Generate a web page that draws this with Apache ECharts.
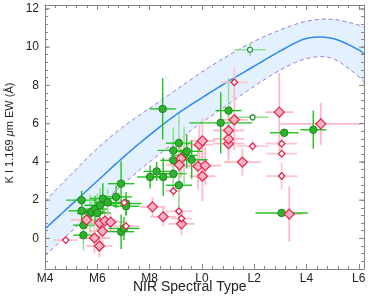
<!DOCTYPE html>
<html><head><meta charset="utf-8">
<script src="https://cdn.jsdelivr.net/npm/echarts@6/dist/echarts.min.js"></script>
<style>html,body{margin:0;padding:0;background:#fff}#c{width:374px;height:299px}</style>
</head><body><div id="c"></div>
<script>
// ---- axis ticks ----
const xTickValues = [4, 6, 8, 10, 12, 14, 16];
const xTickLabels = ['M4', 'M6', 'M8', 'L0', 'L2', 'L4', 'L6'];
const yTickValues = [0, 2, 4, 6, 8, 10, 12];
const yTickLabels = ['0', '2', '4', '6', '8', '10', '12'];
const xRange = [4, 16.2];
const yRange = [-1.6, 12.2];

// ---- model curve and band (read at each subtype) ----
const modelX     = [4, 5, 6, 7, 8, 9, 10, 11, 12, 13, 14, 15, 16, 16.2];
const modelMid   = [0.5, 1.75, 3.0, 4.25, 5.4, 6.45, 7.35, 8.2, 9.0, 9.8, 10.45, 10.45, 9.85, 9.6];
const modelUpper = [1.95, 3.35, 4.7, 5.85, 6.8, 7.75, 8.7, 9.55, 10.3, 10.9, 11.35, 11.45, 11.15, 11.05];
const modelLower = [-0.9, 0.35, 1.6, 2.85, 4.0, 5.05, 6.05, 7.0, 7.95, 8.8, 9.4, 9.4, 8.45, 8.1];

// ---- data points: [spectral type, EW, xerr, yerr, lightVerticalBar] ----
const greenFilled = [
  [5.40, 2.00, 0.6, 0.5, 0], [5.40, 1.44, 0.5, 0.7, 0], [5.47, 0.69, 0.4, 0.9, 1], [5.47, 0.17, 0.4, 0.8, 1],
  [5.72, 1.30, 0.5, 1.0, 1], [5.78, 1.39, 0.5, 0.8, 1], [5.91, 1.53, 0.5, 0.7, 0], [6.00, 1.33, 0.5, 1.0, 1],
  [6.10, 1.73, 0.6, 0.9, 1], [6.21, 2.08, 0.5, 0.8, 0], [6.40, 1.88, 0.5, 0.7, 1], [6.72, 2.17, 0.6, 0.6, 0],
  [6.91, 2.86, 0.5, 1.2, 0], [7.10, 1.82, 0.6, 0.6, 0], [7.10, 1.68, 0.5, 0.5, 0], [6.91, 0.35, 0.5, 0.9, 0],
  [7.02, 0.52, 0.6, 0.6, 0], [8.02, 3.21, 0.5, 0.6, 0], [8.27, 3.50, 0.5, 0.5, 0], [8.52, 3.21, 0.5, 1.0, 0],
  [8.91, 3.38, 0.5, 1.2, 1], [8.91, 4.08, 0.5, 1.4, 1], [8.91, 4.60, 0.6, 1.2, 1], [9.12, 2.78, 0.5, 1.3, 1],
  [9.12, 4.98, 0.5, 1.5, 1], [9.32, 4.34, 0.5, 1.5, 1], [9.42, 4.55, 0.6, 0.9, 0], [9.61, 4.11, 0.6, 1.0, 0],
  [8.50, 6.77, 0.5, 1.6, 0], [10.72, 6.04, 1.2, 1.6, 0], [11.02, 6.68, 0.5, 1.7, 1], [13.15, 5.52, 0.55, 0.2, 0],
  [14.26, 5.68, 0.5, 1.0, 0], [13.05, 1.33, 1.0, 0.1, 0]
];
const greenOpen = [
  [11.84, 9.86, 0.6, 0.35, 1], [11.94, 6.33, 0.6, 0.2, 1]
];
const pinkFilled = [
  [5.59, 0.97, 0.6, 0.5], [6.09, 0.80, 0.6, 0.8], [6.29, 0.91, 0.5, 0.6], [6.51, 0.85, 0.5, 0.5],
  [6.20, 0.38, 0.5, 0.7], [5.89, 0.02, 0.6, 0.8], [6.08, -0.40, 0.5, 0.6], [8.11, 1.65, 0.5, 0.5],
  [8.52, 1.13, 0.5, 0.5], [9.22, 0.76, 0.5, 0.6], [9.20, 4.17, 0.5, 1.0], [9.14, 3.84, 0.5, 1.2],
  [9.85, 3.77, 0.5, 1.2], [10.13, 3.80, 0.6, 1.0], [10.02, 3.25, 0.5, 1.3], [9.90, 4.90, 0.5, 1.0],
  [10.02, 5.10, 0.5, 1.2], [11.02, 4.95, 0.6, 1.0], [11.02, 5.20, 0.6, 1.0], [11.02, 5.64, 0.6, 1.0],
  [11.24, 6.20, 0.5, 1.6], [11.55, 3.99, 0.7, 0.7], [12.96, 6.60, 0.53, 2.05], [14.55, 5.99, 1.55, 1.1],
  [13.34, 1.27, 0.5, 1.45]
];
const pinkOpen = [
  [4.79, -0.09, 0.45, 0.1], [7.03, 1.87, 0.3, 0.2], [7.10, 0.64, 0.5, 0.3], [8.91, 2.48, 0.3, 0.3],
  [9.12, 1.42, 0.5, 0.8], [9.22, 1.04, 0.4, 0.5], [11.24, 8.16, 0.5, 0.8], [11.94, 4.82, 0.6, 0.3],
  [13.05, 4.95, 0.6, 0.4], [13.05, 4.43, 0.6, 0.3], [13.05, 3.26, 0.6, 0.7]
];

const axisCol = '#858585';
const FONT = 'Liberation Sans, Arial, sans-serif';
function labelFmt(vals, labs) {
  return v => { const i = vals.findIndex(t => Math.abs(t - v) < 1e-6); return i >= 0 ? labs[i] : ''; };
}
function mkX(pos, labels) {
  return {
    type: 'value', position: pos, min: xRange[0], max: xRange[1], interval: 2, z: 10,
    axisLine: { show: true, onZero: false, lineStyle: { color: axisCol, width: 1 } },
    axisTick: { show: true, inside: true, length: 5, lineStyle: { color: axisCol } },
    minorTick: { show: true, splitNumber: 5, length: 3, lineStyle: { color: axisCol } },
    axisLabel: labels ? { show: true, margin: 4, fontSize: 12, color: '#222', fontFamily: FONT,
      showMaxLabel: false, formatter: labelFmt(xTickValues, xTickLabels) } : { show: false },
    splitLine: { show: false }, minorSplitLine: { show: false }
  };
}
function mkY(pos, labels) {
  return {
    type: 'value', position: pos, min: yRange[0], max: yRange[1], interval: 0.4, z: 10,
    axisLine: { show: true, onZero: false, lineStyle: { color: axisCol, width: 1 } },
    axisTick: { show: true, inside: true, length: 3, lineStyle: { color: axisCol } },
    minorTick: { show: false },
    axisLabel: labels ? { show: true, margin: 6, fontSize: 12, color: '#222', fontFamily: FONT,
      formatter: labelFmt(yTickValues, yTickLabels) } : { show: false },
    splitLine: { show: false }
  };
}

// major y ticks (longer), placed through the axis scale
function majorTickRender(params, api) {
  const v = api.value(0);
  const l = api.coord([xRange[0], v]), r = api.coord([xRange[1], v]);
  return {
    type: 'group', children: [
      { type: 'line', shape: { x1: l[0], y1: l[1], x2: l[0] + 5, y2: l[1] }, style: { stroke: axisCol, lineWidth: 1 } },
      { type: 'line', shape: { x1: r[0], y1: r[1], x2: r[0] - 5, y2: r[1] }, style: { stroke: axisCol, lineWidth: 1 } }
    ]
  };
}

// Catmull-Rom sampling of a screen-space path (rendering only)
function smoothPath(pts, steps) {
  const out = [];
  for (let i = 0; i < pts.length - 1; i++) {
    const p0 = pts[Math.max(i - 1, 0)], p1 = pts[i], p2 = pts[i + 1], p3 = pts[Math.min(i + 2, pts.length - 1)];
    for (let s = 0; s < steps; s++) {
      const t = s / steps, t2 = t * t, t3 = t2 * t;
      const f = k => 0.5 * ((2 * p1[k]) + (-p0[k] + p2[k]) * t + (2 * p0[k] - 5 * p1[k] + 4 * p2[k] - p3[k]) * t2 + (-p0[k] + 3 * p1[k] - 3 * p2[k] + p3[k]) * t3);
      out.push([f(0), f(1)]);
    }
  }
  out.push(pts[pts.length - 1]);
  return out;
}
function modelRender(params, api) {
  const up = smoothPath(modelX.map((x, i) => api.coord([x, modelUpper[i]])), 12);
  const lo = smoothPath(modelX.map((x, i) => api.coord([x, modelLower[i]])), 12);
  const mid = smoothPath(modelX.map((x, i) => api.coord([x, modelMid[i]])), 12);
  return {
    type: 'group', children: [
      { type: 'polygon', shape: { points: up.concat(lo.slice().reverse()) }, style: { fill: '#e2f1fd', stroke: null } },
      { type: 'polyline', shape: { points: up }, style: { stroke: '#9b6fe6', lineWidth: 1, fill: null, lineDash: [4, 3] } },
      { type: 'polyline', shape: { points: lo }, style: { stroke: '#9b6fe6', lineWidth: 1, fill: null, lineDash: [4, 3] } },
      { type: 'polyline', shape: { points: mid }, style: { stroke: '#2a8af0', lineWidth: 1.5, fill: null } }
    ]
  };
}

function errRender(hCol, vColDark, vColLight, width) {
  return function (params, api) {
    const x = api.value(0), y = api.value(1), ex = api.value(2), ey = api.value(3), light = api.value(4);
    const a = api.coord([x - ex, y]), b = api.coord([x + ex, y]);
    const c = api.coord([x, y - ey]), d = api.coord([x, y + ey]);
    return {
      type: 'group', children: [
        { type: 'line', shape: { x1: c[0], y1: c[1], x2: d[0], y2: d[1] }, style: { stroke: light ? vColLight : vColDark, lineWidth: width } },
        { type: 'line', shape: { x1: a[0], y1: a[1], x2: b[0], y2: b[1] }, style: { stroke: hCol, lineWidth: width } }
      ]
    };
  };
}

const chart = echarts.init(document.getElementById('c'), null, { renderer: 'canvas' });
chart.setOption({
  animation: false,
  grid: { left: 45, right: 10, top: 5, bottom: 30 },
  xAxis: [mkX('bottom', true), mkX('top', false)],
  yAxis: [mkY('left', true), mkY('right', false)],
  graphic: [
    { type: 'text', left: 133, top: 280, z: 20, style: { text: 'NIR Spectral Type', fill: '#222', font: '14px "Liberation Sans", Arial, sans-serif' } },
    { type: 'text', x: 10, y: 133, rotation: Math.PI / 2, z: 20, style: {
        text: '{a|K I 1.169 }{i|μ}{a|m EW (Å)}', align: 'center', verticalAlign: 'middle',
        rich: { a: { fill: '#222', fontSize: 11, fontFamily: FONT },
                i: { fill: '#222', fontSize: 11, fontStyle: 'italic', fontFamily: FONT } } } }
  ],
  series: [
    { type: 'custom', z: 1, renderItem: modelRender, data: [[modelX[0], modelMid[0]]], clip: true, silent: true },
    { type: 'custom', z: 9, renderItem: majorTickRender, data: yTickValues.map(v => [v]), clip: false, silent: true,
      encode: { y: 0 } },
    { type: 'custom', z: 3, renderItem: errRender('#ffc6d0', '#ffc6d0', '#ffc6d0', 1.8), data: pinkOpen.map(p => p.concat([0])), clip: true },
    { type: 'custom', z: 3, renderItem: errRender('#ffbac8', '#ffbac8', '#ffbac8', 1.8), data: pinkFilled.map(p => p.concat([0])), clip: true },
    { type: 'custom', z: 3, renderItem: errRender('#8ee08e', '#8ee08e', '#8ee08e', 1.5), data: greenOpen, clip: true },
    { type: 'custom', z: 3, renderItem: errRender('#22c022', '#22c022', '#8fdf8f', 1.4), data: greenFilled, clip: true },
    { type: 'scatter', z: 4, data: greenFilled.map(p => [p[0], p[1]]), symbol: 'circle', symbolSize: 7.5,
      itemStyle: { color: '#2fb32f', borderColor: '#1d861d', borderWidth: 1, opacity: 1 } },
    { type: 'scatter', z: 5, data: greenOpen.map(p => [p[0], p[1]]), symbol: 'circle', symbolSize: 5,
      itemStyle: { color: '#ffffff', borderColor: '#1f8f3a', borderWidth: 1.2, opacity: 1 } },
    { type: 'scatter', z: 6, data: pinkFilled.map(p => [p[0], p[1]]), symbol: 'diamond', symbolSize: 10,
      itemStyle: { color: '#ffafc0', borderColor: '#e2234d', borderWidth: 1.2, opacity: 1 } },
    { type: 'scatter', z: 7, data: pinkOpen.map(p => [p[0], p[1]]), symbol: 'diamond', symbolSize: 6.5,
      itemStyle: { color: '#ffffff', borderColor: '#e2234d', borderWidth: 1.3, opacity: 1 } }
  ]
});
</script>
</body></html>
